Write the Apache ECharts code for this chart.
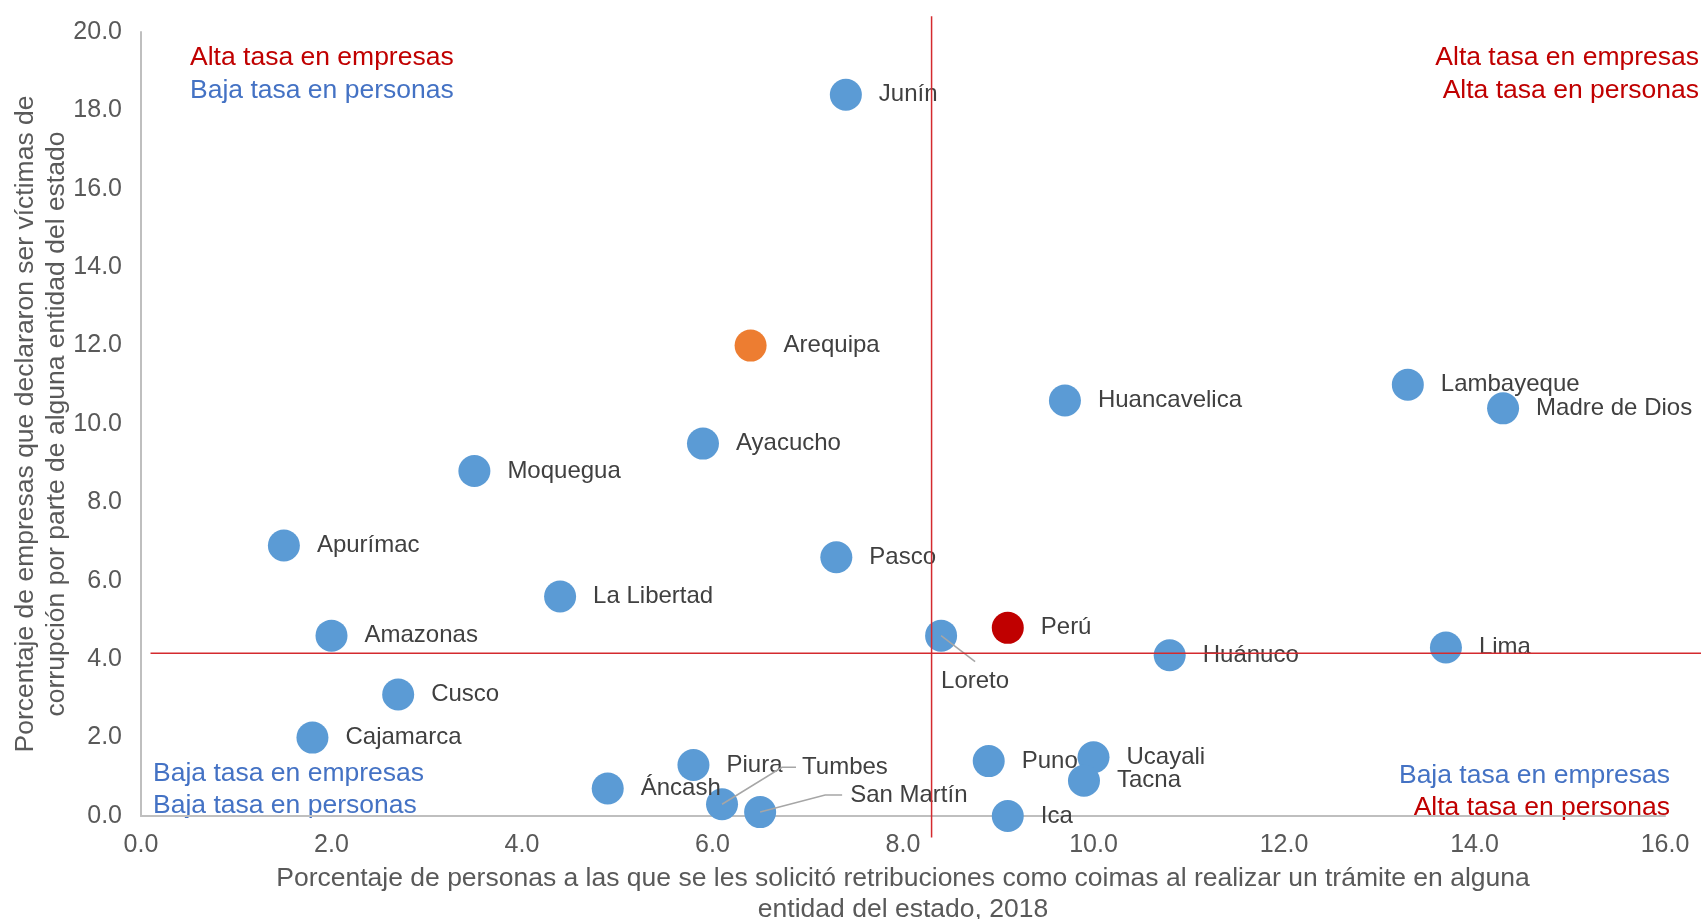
<!DOCTYPE html>
<html>
<head>
<meta charset="utf-8">
<script src="https://cdn.jsdelivr.net/npm/echarts@6/dist/echarts.min.js"></script>
<style>
  html, body { margin: 0; background: #fff; }
  #chart { width: 1701px; height: 919px; }
</style>
</head>
<body>
<div id="chart"></div>
<script>
// regiones, % personas (x) y % empresas (y)
const regiones = ['Junín', 'Arequipa', 'Huancavelica', 'Lambayeque', 'Madre de Dios', 'Ayacucho',
  'Moquegua', 'Apurímac', 'Pasco', 'La Libertad', 'Amazonas', 'Loreto', 'Perú', 'Huánuco', 'Lima',
  'Cusco', 'Cajamarca', 'Piura', 'Áncash', 'Tumbes', 'San Martín', 'Puno', 'Ucayali', 'Tacna', 'Ica']
const personas = [7.4, 6.4, 9.7, 13.3, 14.3, 5.9, 3.5, 1.5, 7.3, 4.4, 2.0, 8.4, 9.1, 10.8, 13.7,
  2.7, 1.8, 5.8, 4.9, 6.1, 6.5, 8.9, 10.0, 9.9, 9.1]
const empresas = [18.4, 12.0, 10.6, 11.0, 10.4, 9.5, 8.8, 6.9, 6.6, 5.6, 4.6, 4.6, 4.8, 4.1, 4.3,
  3.1, 2.0, 1.3, 0.7, 0.3, 0.1, 1.4, 1.5, 0.9, 0.0]

// líneas de referencia (valor y extremos)
const refPersonas = 8.3
const refEmpresas = 4.15
const refVertSpan = [-0.55, 20.4]
const refHorizSpan = [0.1, 16.4]

const colorFor = { 'Perú': '#C00000', 'Arequipa': '#ED7D31' }
// etiquetas con línea guía: posición del texto y quiebres de la línea, en px desde el punto
const guided = {
  'Loreto': { tx: 34, ty: 46, align: 'center', line: [[34, 26]] },
  'Tumbes': { tx: 80, ty: -37, align: 'left', line: [[60, -37], [74, -37]] },
  'San Martín': { tx: 90, ty: -17, align: 'left', line: [[65, -17], [82, -17]] }
}

const chart = echarts.init(document.getElementById('chart'))

const font = 'Liberation Sans, Arial, sans-serif'
const quad = '26.5px ' + font
const red = '#C00000'
const blue = '#4472C4'

const data = regiones.map((name, i) => ({
  name,
  value: [personas[i], empresas[i]],
  itemStyle: { color: colorFor[name] || '#5B9BD5' },
  label: { show: !guided[name] }
}))

const guidedIdx = regiones.map((n, i) => i).filter(i => guided[regiones[i]])

const option = {
  backgroundColor: '#fff',
  animation: false,
  grid: { left: 141, right: 36, top: 32, bottom: 103, outerBoundsMode: 'none' },
  xAxis: {
    type: 'value',
    min: 0, max: 16, interval: 2,
    name: 'Porcentaje de personas a las que se les solicitó retribuciones como coimas al realizar un trámite en alguna\nentidad del estado, 2018',
    nameLocation: 'middle',
    nameGap: 46,
    nameTextStyle: { color: '#595959', fontSize: 26.5, fontFamily: font, lineHeight: 31 },
    axisLine: { lineStyle: { color: '#BFBFBF', width: 2 } },
    axisTick: { show: false },
    splitLine: { show: false },
    axisLabel: { color: '#595959', fontSize: 25, fontFamily: font, margin: 17, formatter: v => v.toFixed(1) }
  },
  yAxis: {
    type: 'value',
    min: 0, max: 20, interval: 2,
    name: 'Porcentaje de empresas que declararon ser víctimas de\ncorrupción por parte de alguna entidad del estado',
    nameLocation: 'middle',
    nameGap: 69,
    nameMoveOverlap: false,
    nameTextStyle: { color: '#595959', fontSize: 26.5, fontFamily: font, lineHeight: 31 },
    axisLine: { show: true, lineStyle: { color: '#BFBFBF', width: 2 } },
    axisTick: { show: false },
    splitLine: { show: false },
    axisLabel: { color: '#595959', fontSize: 25, fontFamily: font, margin: 19, formatter: v => v.toFixed(1) }
  },
  series: [
    {
      type: 'scatter',
      symbolSize: 32,
      data,
      itemStyle: { opacity: 1 },
      label: {
        show: true,
        position: 'right',
        distance: 17,
        formatter: '{b}',
        color: '#404040',
        fontSize: 24,
        fontFamily: font
      },
      z: 3
    },
    {
      // etiquetas con línea guía (Loreto, Tumbes, San Martín)
      type: 'custom',
      silent: true,
      z: 4,
      data: guidedIdx.map(i => [personas[i], empresas[i], i]),
      renderItem: (params, api) => {
        const p = api.coord([api.value(0), api.value(1)])
        const name = regiones[api.value(2)]
        const g = guided[name]
        const pts = [p].concat(g.line.map(d => [p[0] + d[0], p[1] + d[1]]))
        return {
          type: 'group',
          children: [
            { type: 'polyline', shape: { points: pts }, style: { stroke: '#A6A6A6', lineWidth: 1.5, fill: null } },
            {
              type: 'text',
              x: p[0] + g.tx,
              y: p[1] + g.ty,
              style: { text: name, align: g.align, verticalAlign: 'middle', fill: '#404040', font: '24px ' + font }
            }
          ]
        }
      }
    },
    {
      // líneas de referencia
      type: 'custom',
      silent: true,
      z: 5,
      encode: { x: [0, 2], y: [1, 3] },
      data: [
        [refPersonas, refVertSpan[0], refPersonas, refVertSpan[1]],
        [refHorizSpan[0], refEmpresas, refHorizSpan[1], refEmpresas]
      ],
      renderItem: (params, api) => {
        const a = api.coord([api.value(0), api.value(1)])
        const b = api.coord([api.value(2), api.value(3)])
        return {
          type: 'line',
          shape: { x1: a[0], y1: a[1], x2: b[0], y2: b[1] },
          style: { stroke: '#D42A2E', lineWidth: 1.5 }
        }
      }
    }
  ],
  graphic: [
    { type: 'text', left: 190, top: 44, style: { text: 'Alta tasa en empresas', fill: red, font: quad } },
    { type: 'text', left: 190, top: 77, style: { text: 'Baja tasa en personas', fill: blue, font: quad } },
    { type: 'text', right: 2, top: 44, style: { text: 'Alta tasa en empresas', fill: red, font: quad } },
    { type: 'text', right: 2, top: 77, style: { text: 'Alta tasa en personas', fill: red, font: quad } },
    { type: 'text', left: 153, top: 760, style: { text: 'Baja tasa en empresas', fill: blue, font: quad } },
    { type: 'text', left: 153, top: 792, style: { text: 'Baja tasa en personas', fill: blue, font: quad } },
    { type: 'text', right: 31, top: 762, style: { text: 'Baja tasa en empresas', fill: blue, font: quad } },
    { type: 'text', right: 31, top: 794, style: { text: 'Alta tasa en personas', fill: red, font: quad } }
  ]
}

chart.setOption(option)
window.addEventListener('resize', () => chart.resize())
</script>
</body>
</html>
